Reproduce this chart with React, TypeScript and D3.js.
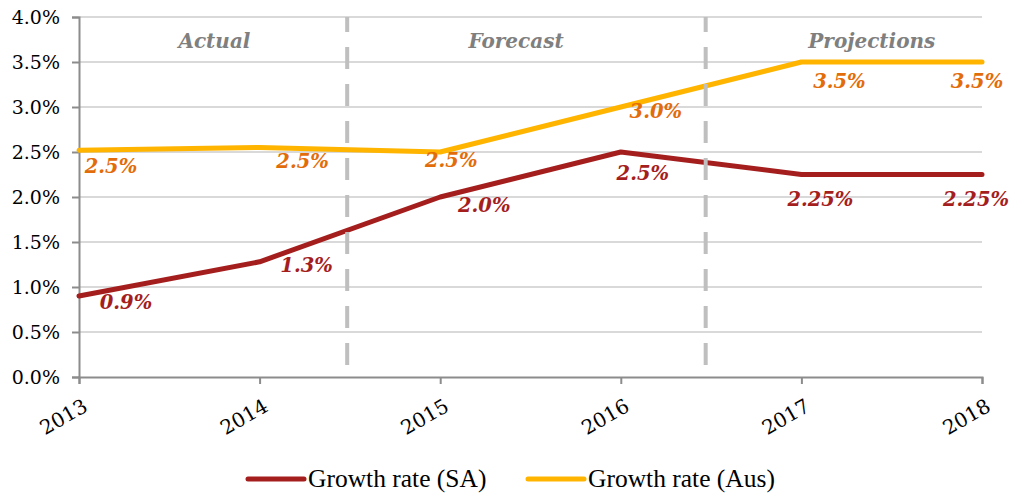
import React, { useEffect, useRef } from 'react';
import * as d3 from 'd3';

const width = 1009;
const height = 493;

const years = [2013, 2014, 2015, 2016, 2017, 2018];
const growthSA = [0.9, 1.28, 2.0, 2.5, 2.25, 2.25];
const growthAus = [2.52, 2.55, 2.5, 3.0, 3.5, 3.5];
const labelsSA = ['0.9%', '1.3%', '2.0%', '2.5%', '2.25%', '2.25%'];
const labelsAus = ['2.5%', '2.5%', '2.5%', '3.0%', '3.5%', '3.5%'];
const yTicks = [0, 0.5, 1, 1.5, 2, 2.5, 3, 3.5, 4];
const sections = ['Actual', 'Forecast', 'Projections'];
const sectionCentres = [2013.75, 2015.42, 2017.39];
const dividers = [2014.485, 2016.47];

const red = '#a51e1e';
const yellow = '#ffb500';
const orange = '#e36c0a';
const grey = '#7f7f7f';
const axisGrey = '#8c8c8c';
const gridGrey = '#d9d9d9';

// label nudges in px from each point, where the original labels sit
const offsetsSA = [[47, 13], [47, 10], [44, 15], [22, 28], [19, 31], [-6, 31]];
const offsetsAus = [[32, 23], [43, 20], [11, 15], [35, 11], [38, 26], [-5, 26]];

const tickFont = 'DejaVu Serif';

export default function App() {
  const ref = useRef<SVGSVGElement | null>(null);

  useEffect(() => {
    const svg = d3.select(ref.current);
    svg.selectAll('*').remove();

    const x = d3.scaleLinear().domain([2013, 2018]).range([79, 982]);
    const y = d3.scaleLinear().domain([0, 4]).range([377, 17]);

    // gridlines
    svg
      .append('g')
      .selectAll('line')
      .data(yTicks.slice(1))
      .join('line')
      .attr('x1', x(2013))
      .attr('x2', x(2018))
      .attr('y1', (d) => y(d))
      .attr('y2', (d) => y(d))
      .attr('stroke', gridGrey)
      .attr('stroke-width', 2);

    // y axis
    const yAxis = svg
      .append('g')
      .attr('transform', `translate(${x(2013)},0)`)
      .call(
        d3
          .axisLeft(y)
          .tickValues(yTicks)
          .tickSize(7)
          .tickPadding(12)
          .tickFormat((d) => `${(+d).toFixed(1)}%`)
      );
    yAxis.select('.domain').attr('stroke', axisGrey).attr('stroke-width', 2);
    yAxis.selectAll('.tick line').attr('stroke', axisGrey).attr('stroke-width', 2);
    yAxis
      .selectAll('.tick text')
      .attr('font-family', tickFont)
      .attr('font-size', 19)
      .attr('fill', '#000');

    // x axis
    const xAxis = svg
      .append('g')
      .attr('transform', `translate(0,${y(0)})`)
      .call(
        d3
          .axisBottom(x)
          .tickValues(years)
          .tickSize(7)
          .tickFormat((d) => String(d))
      );
    xAxis.select('.domain').attr('stroke', axisGrey).attr('stroke-width', 2);
    xAxis.selectAll('.tick line').attr('stroke', axisGrey).attr('stroke-width', 2);
    xAxis
      .selectAll('.tick text')
      .attr('font-family', tickFont)
      .attr('font-size', 20)
      .attr('fill', '#000')
      .attr('text-anchor', 'end')
      .attr('dy', null)
      .attr('y', null)
      .attr('dominant-baseline', 'central')
      .attr('transform', 'translate(6,27) rotate(-30)');

    const line = d3
      .line<number>()
      .x((_, i) => x(years[i]))
      .y((d) => y(d));

    const series = [
      { values: growthSA, color: red },
      { values: growthAus, color: yellow },
    ];
    svg
      .append('g')
      .selectAll('path')
      .data(series)
      .join('path')
      .attr('d', (s) => line(s.values))
      .attr('fill', 'none')
      .attr('stroke', (s) => s.color)
      .attr('stroke-width', 5)
      .attr('stroke-linejoin', 'round')
      .attr('stroke-linecap', 'round');

    // dashed section dividers
    svg
      .append('g')
      .selectAll('line')
      .data(dividers)
      .join('line')
      .attr('x1', (d) => x(d))
      .attr('x2', (d) => x(d))
      .attr('y1', y(4))
      .attr('y2', y(0))
      .attr('stroke', '#bfbfbf')
      .attr('stroke-width', 4)
      .attr('stroke-dasharray', '22 15')
      .attr('stroke-dashoffset', 7);

    // section titles
    svg
      .append('g')
      .selectAll('text')
      .data(sections)
      .join('text')
      .attr('x', (_, i) => x(sectionCentres[i]))
      .attr('y', 48)
      .attr('text-anchor', 'middle')
      .attr('font-family', tickFont)
      .attr('font-style', 'italic')
      .attr('font-weight', 'bold')
      .attr('font-size', 20)
      .attr('fill', grey)
      .text((d) => d);

    // data labels
    const drawLabels = (values: number[], labels: string[], offsets: number[][], color: string) => {
      svg
        .append('g')
        .selectAll('text')
        .data(values)
        .join('text')
        .attr('x', (_, i) => x(years[i]) + offsets[i][0])
        .attr('y', (d, i) => y(d) + offsets[i][1])
        .attr('text-anchor', 'middle')
        .attr('font-family', tickFont)
        .attr('font-style', 'italic')
        .attr('font-weight', 'bold')
        .attr('font-size', 19.5)
        .attr('fill', color)
        .text((_, i) => labels[i]);
    };
    drawLabels(growthAus, labelsAus, offsetsAus, orange);
    drawLabels(growthSA, labelsSA, offsetsSA, red);

    // legend
    const legend = [
      { name: 'Growth rate (SA)', color: red, x0: 248 },
      { name: 'Growth rate (Aus)', color: yellow, x0: 528 },
    ];
    const items = svg
      .append('g')
      .selectAll('g')
      .data(legend)
      .join('g')
      .attr('transform', (d) => `translate(${d.x0},479)`);
    items
      .append('line')
      .attr('x1', 0)
      .attr('x2', 56)
      .attr('stroke', (d) => d.color)
      .attr('stroke-width', 5)
      .attr('stroke-linecap', 'round');
    items
      .append('text')
      .attr('x', 60)
      .attr('y', 8)
      .attr('font-family', 'Liberation Serif')
      .attr('font-size', 25.5)
      .attr('fill', '#000')
      .text((d) => d.name);
  }, []);

  return (
    <svg
      ref={ref}
      width={width}
      height={height}
      style={{ position: 'absolute', left: 0, top: 0, background: '#fff' }}
    />
  );
}
